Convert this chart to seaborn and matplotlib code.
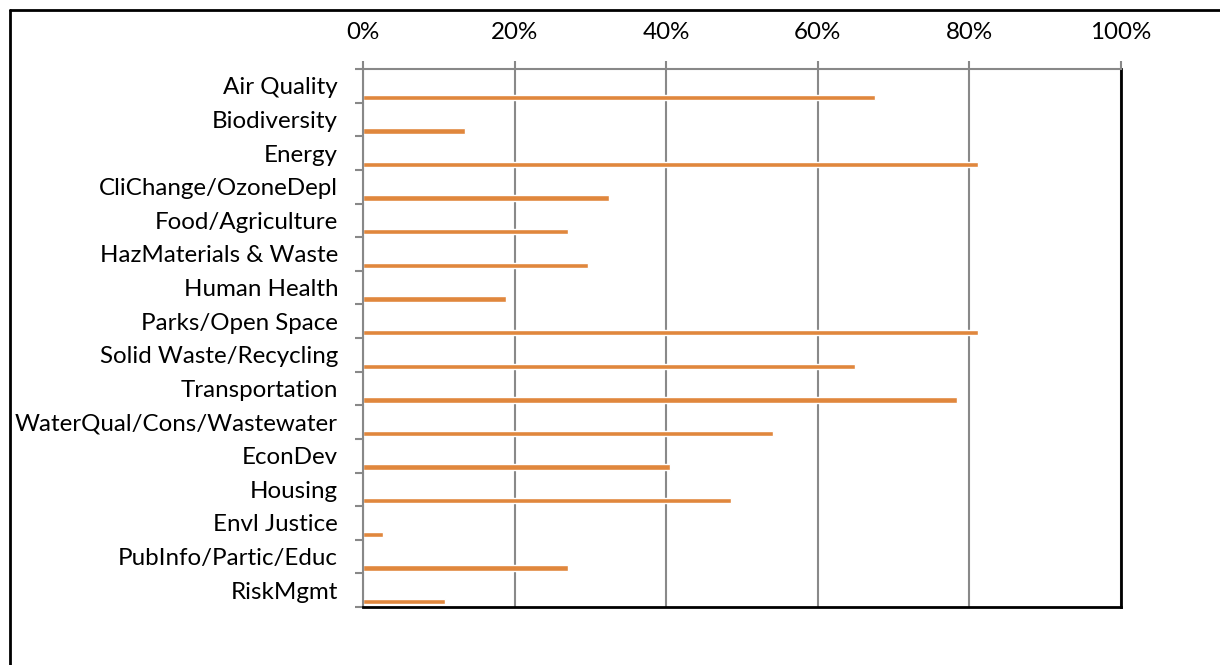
import matplotlib
matplotlib.use("Agg")
import matplotlib.pyplot as plt
from matplotlib.lines import Line2D
from matplotlib.ticker import FixedLocator, PercentFormatter
import seaborn as sns
import pandas as pd
import numpy as np

categories = ["Air Quality", "Biodiversity", "Energy", "CliChange/OzoneDepl",
              "Food/Agriculture", "HazMaterials & Waste", "Human Health",
              "Parks/Open Space", "Solid Waste/Recycling", "Transportation",
              "WaterQual/Cons/Wastewater", "EconDev", "Housing", "Envl Justice",
              "PubInfo/Partic/Educ", "RiskMgmt"]
values = [0.676, 0.135, 0.811, 0.324, 0.270, 0.297, 0.189, 0.811, 0.649,
          0.784, 0.541, 0.405, 0.486, 0.027, 0.270, 0.108]
x_ticks = [0, 0.2, 0.4, 0.6, 0.8, 1.0]

sns.set_theme(style="white")
plt.rcParams['font.family'] = ['Lato', 'DejaVu Sans']

df = pd.DataFrame({"cat": categories, "val": values})

fig = plt.figure(figsize=(12.2, 6.65), dpi=100)
ax = fig.add_axes([363/1220, 1-607/665, (1121-363)/1220, (607-69)/665])

sns.barplot(data=df, y="cat", x="val", orient="h", color="#E0873D",
            width=0.16, saturation=1, ax=ax, order=categories)

n = len(categories)
off = 0.34
ax.set_ylim(n - 1 + (1 - off - 0.5), -(0.5 + off))
ax.set_xlim(0, 1)

# category labels centered in bands, boundary ticks as minor
ax.yaxis.set_major_locator(FixedLocator([i - off for i in range(n)]))
ax.set_yticklabels(categories)
ax.yaxis.set_minor_locator(FixedLocator([i - off + 0.5 for i in range(-1, n)]))
ax.tick_params(axis="y", which="major", length=0, pad=18, labelsize=17.4, colors="black")
ax.tick_params(axis="y", which="minor", left=True, length=6, width=1.5, color="#888888")

ax.xaxis.tick_top()
ax.set_xticks(x_ticks)
ax.xaxis.set_major_formatter(PercentFormatter(1.0, decimals=0))
ax.tick_params(axis="x", which="major", top=True, length=6, width=1.5, color="#888888",
               pad=13, labelsize=17.4, labelcolor="black")
ax.grid(axis="x", color="#898989", linewidth=1.5)
ax.set_axisbelow(True)
ax.set_xlabel("")
ax.set_ylabel("")

for s in ["left", "top"]:
    ax.spines[s].set_color("#888888")
    ax.spines[s].set_linewidth(1.5)
for s in ["right", "bottom"]:
    ax.spines[s].set_color("black")
    ax.spines[s].set_linewidth(2)
    ax.spines[s].set_visible(True)

# outer frame (top and left visible)
fig.add_artist(Line2D([10/1220, 1.0], [1-10/665, 1-10/665], transform=fig.transFigure,
                      color="black", linewidth=2))
fig.add_artist(Line2D([10/1220, 10/1220], [0, 1-10/665], transform=fig.transFigure,
                      color="black", linewidth=2))

fig.savefig("out.png", dpi=100, facecolor="white")
